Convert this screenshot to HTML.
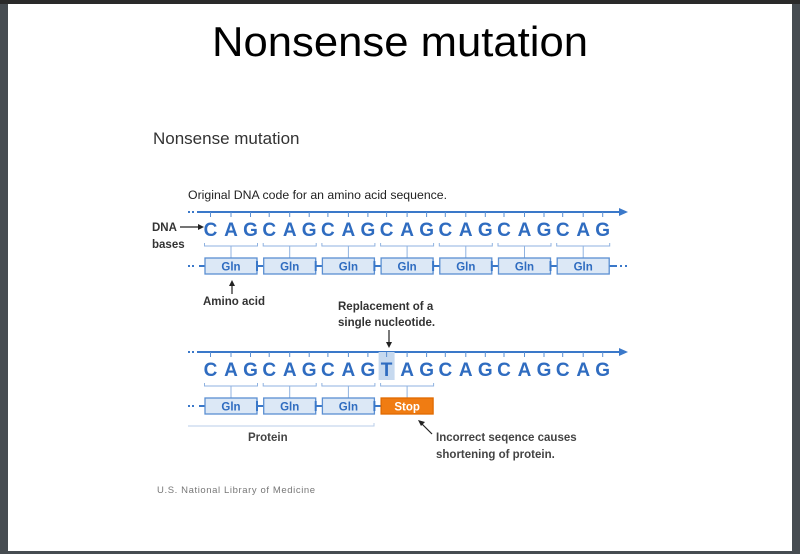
<!DOCTYPE html>
<html><head><meta charset="utf-8"><style>
html,body{margin:0;padding:0;width:800px;height:554px;overflow:hidden;background:#464c51}
svg{display:block}
.dl{font-size:19px;font-weight:bold;fill:#2f6cc0}
</style></head><body>
<svg width="800" height="554" xmlns="http://www.w3.org/2000/svg" font-family="Liberation Sans, Arial, sans-serif">
<rect x="0" y="0" width="800" height="554" fill="#464c51"/>
<rect x="0" y="0" width="800" height="4" fill="#2a2a2a"/>
<rect x="8" y="4" width="784" height="547" fill="#ffffff"/>
<text x="400" y="56" text-anchor="middle" font-size="42" fill="#000" textLength="376" lengthAdjust="spacingAndGlyphs">Nonsense mutation</text>
<text x="153" y="144" font-size="17" fill="#333">Nonsense mutation</text>
<text x="188" y="199" font-size="12.3" fill="#222">Original DNA code for an amino acid sequence.</text>
<text x="152" y="231" font-size="11.5" font-weight="bold" fill="#333">DNA</text>
<text x="152" y="248" font-size="11.5" font-weight="bold" fill="#333">bases</text>
<line x1="180" y1="227" x2="200" y2="227" stroke="#222" stroke-width="1.2"/>
<polygon points="204,227 198,224 198,230" fill="#222"/>
<text x="203" y="305" font-size="11.5" font-weight="bold" fill="#333">Amino acid</text>
<line x1="232" y1="294" x2="232" y2="284" stroke="#222" stroke-width="1.2"/>
<polygon points="232,280 229,286 235,286" fill="#222"/>
<text x="338" y="310" font-size="11.5" font-weight="bold" fill="#333">Replacement of a</text>
<text x="338" y="326" font-size="11.5" font-weight="bold" fill="#333">single nucleotide.</text>
<line x1="389" y1="330" x2="389" y2="344" stroke="#222" stroke-width="1.2"/>
<polygon points="389,348 386,342 392,342" fill="#222"/>
<text x="248" y="441" font-size="11.5" font-weight="bold" fill="#444">Protein</text>
<text x="436" y="441" font-size="11.5" font-weight="bold" fill="#444">Incorrect seqence causes</text>
<text x="436" y="458" font-size="11.5" font-weight="bold" fill="#444">shortening of protein.</text>
<line x1="432" y1="434" x2="421" y2="423" stroke="#222" stroke-width="1.2"/>
<polygon points="418,420 425,422 421,426" fill="#222"/>
<text x="157" y="493" font-size="9.5" fill="#777" letter-spacing="0.6">U.S. National Library of Medicine</text>

<!-- ROW 1 -->
<line x1="188" y1="212" x2="194" y2="212" stroke="#3a78c9" stroke-width="2" stroke-dasharray="2,2"/>
<line x1="197" y1="212" x2="622" y2="212" stroke="#3a78c9" stroke-width="2"/>
<polygon points="628,212 619,208 619,216" fill="#3a78c9"/>
<line x1="188" y1="266" x2="196" y2="266" stroke="#3a78c9" stroke-width="2" stroke-dasharray="2,2"/>
<line x1="199" y1="266" x2="205" y2="266" stroke="#3a78c9" stroke-width="2"/>
<line x1="609" y1="266" x2="617" y2="266" stroke="#3a78c9" stroke-width="2"/>
<line x1="620" y1="266" x2="630" y2="266" stroke="#3a78c9" stroke-width="2" stroke-dasharray="2,3"/>

<g transform="translate(210.5,0)">
<path d="M0,212v5M20.5,212v5M40,212v5" stroke="#5b8fd2"/>
<text y="236" class="dl" text-anchor="middle"><tspan x="0">C</tspan><tspan x="20.5">A</tspan><tspan x="40">G</tspan></text>
<path d="M-6,243v3H47v-3M20.5,246V258" stroke="#8fb2e0" fill="none"/>
<rect x="-5.5" y="258" width="52" height="16" fill="#dce8f6" stroke="#5b8fd2" stroke-width="1.3"/>
<text x="20.5" y="270.5" font-size="11.5" font-weight="bold" fill="#2f6cc0" text-anchor="middle">Gln</text>
</g>
<g transform="translate(269.2,0)">
<path d="M0,212v5M20.5,212v5M40,212v5" stroke="#5b8fd2"/>
<text y="236" class="dl" text-anchor="middle"><tspan x="0">C</tspan><tspan x="20.5">A</tspan><tspan x="40">G</tspan></text>
<path d="M-6,243v3H47v-3M20.5,246V258" stroke="#8fb2e0" fill="none"/>
<path d="M-12.2,266H-5.5M-12.2,261v10" stroke="#3a78c9" stroke-width="2"/>
<rect x="-5.5" y="258" width="52" height="16" fill="#dce8f6" stroke="#5b8fd2" stroke-width="1.3"/>
<text x="20.5" y="270.5" font-size="11.5" font-weight="bold" fill="#2f6cc0" text-anchor="middle">Gln</text>
</g>
<g transform="translate(327.9,0)">
<path d="M0,212v5M20.5,212v5M40,212v5" stroke="#5b8fd2"/>
<text y="236" class="dl" text-anchor="middle"><tspan x="0">C</tspan><tspan x="20.5">A</tspan><tspan x="40">G</tspan></text>
<path d="M-6,243v3H47v-3M20.5,246V258" stroke="#8fb2e0" fill="none"/>
<path d="M-12.2,266H-5.5M-12.2,261v10" stroke="#3a78c9" stroke-width="2"/>
<rect x="-5.5" y="258" width="52" height="16" fill="#dce8f6" stroke="#5b8fd2" stroke-width="1.3"/>
<text x="20.5" y="270.5" font-size="11.5" font-weight="bold" fill="#2f6cc0" text-anchor="middle">Gln</text>
</g>
<g transform="translate(386.6,0)">
<path d="M0,212v5M20.5,212v5M40,212v5" stroke="#5b8fd2"/>
<text y="236" class="dl" text-anchor="middle"><tspan x="0">C</tspan><tspan x="20.5">A</tspan><tspan x="40">G</tspan></text>
<path d="M-6,243v3H47v-3M20.5,246V258" stroke="#8fb2e0" fill="none"/>
<path d="M-12.2,266H-5.5M-12.2,261v10" stroke="#3a78c9" stroke-width="2"/>
<rect x="-5.5" y="258" width="52" height="16" fill="#dce8f6" stroke="#5b8fd2" stroke-width="1.3"/>
<text x="20.5" y="270.5" font-size="11.5" font-weight="bold" fill="#2f6cc0" text-anchor="middle">Gln</text>
</g>
<g transform="translate(445.3,0)">
<path d="M0,212v5M20.5,212v5M40,212v5" stroke="#5b8fd2"/>
<text y="236" class="dl" text-anchor="middle"><tspan x="0">C</tspan><tspan x="20.5">A</tspan><tspan x="40">G</tspan></text>
<path d="M-6,243v3H47v-3M20.5,246V258" stroke="#8fb2e0" fill="none"/>
<path d="M-12.2,266H-5.5M-12.2,261v10" stroke="#3a78c9" stroke-width="2"/>
<rect x="-5.5" y="258" width="52" height="16" fill="#dce8f6" stroke="#5b8fd2" stroke-width="1.3"/>
<text x="20.5" y="270.5" font-size="11.5" font-weight="bold" fill="#2f6cc0" text-anchor="middle">Gln</text>
</g>
<g transform="translate(504,0)">
<path d="M0,212v5M20.5,212v5M40,212v5" stroke="#5b8fd2"/>
<text y="236" class="dl" text-anchor="middle"><tspan x="0">C</tspan><tspan x="20.5">A</tspan><tspan x="40">G</tspan></text>
<path d="M-6,243v3H47v-3M20.5,246V258" stroke="#8fb2e0" fill="none"/>
<path d="M-12.2,266H-5.5M-12.2,261v10" stroke="#3a78c9" stroke-width="2"/>
<rect x="-5.5" y="258" width="52" height="16" fill="#dce8f6" stroke="#5b8fd2" stroke-width="1.3"/>
<text x="20.5" y="270.5" font-size="11.5" font-weight="bold" fill="#2f6cc0" text-anchor="middle">Gln</text>
</g>
<g transform="translate(562.7,0)">
<path d="M0,212v5M20.5,212v5M40,212v5" stroke="#5b8fd2"/>
<text y="236" class="dl" text-anchor="middle"><tspan x="0">C</tspan><tspan x="20.5">A</tspan><tspan x="40">G</tspan></text>
<path d="M-6,243v3H47v-3M20.5,246V258" stroke="#8fb2e0" fill="none"/>
<path d="M-12.2,266H-5.5M-12.2,261v10" stroke="#3a78c9" stroke-width="2"/>
<rect x="-5.5" y="258" width="52" height="16" fill="#dce8f6" stroke="#5b8fd2" stroke-width="1.3"/>
<text x="20.5" y="270.5" font-size="11.5" font-weight="bold" fill="#2f6cc0" text-anchor="middle">Gln</text>
</g>

<!-- ROW 2 -->
<line x1="188" y1="352" x2="194" y2="352" stroke="#3a78c9" stroke-width="2" stroke-dasharray="2,2"/>
<line x1="197" y1="352" x2="622" y2="352" stroke="#3a78c9" stroke-width="2"/>
<polygon points="628,352 619,348 619,356" fill="#3a78c9"/>
<line x1="188" y1="406" x2="196" y2="406" stroke="#3a78c9" stroke-width="2" stroke-dasharray="2,2"/>
<line x1="199" y1="406" x2="205" y2="406" stroke="#3a78c9" stroke-width="2"/>
<path d="M188,426H374v-3" stroke="#b8cde8" fill="none"/>

<g transform="translate(210.5,0)">
<path d="M0,352v5M20.5,352v5M40,352v5" stroke="#5b8fd2"/>
<text y="376" class="dl" text-anchor="middle"><tspan x="0">C</tspan><tspan x="20.5">A</tspan><tspan x="40">G</tspan></text>
<path d="M-6,383v3H47v-3M20.5,386V398" stroke="#8fb2e0" fill="none"/>
<rect x="-5.5" y="398" width="52" height="16" fill="#dce8f6" stroke="#5b8fd2" stroke-width="1.3"/>
<text x="20.5" y="410.5" font-size="11.5" font-weight="bold" fill="#2f6cc0" text-anchor="middle">Gln</text>
</g>
<g transform="translate(269.2,0)">
<path d="M0,352v5M20.5,352v5M40,352v5" stroke="#5b8fd2"/>
<text y="376" class="dl" text-anchor="middle"><tspan x="0">C</tspan><tspan x="20.5">A</tspan><tspan x="40">G</tspan></text>
<path d="M-6,383v3H47v-3M20.5,386V398" stroke="#8fb2e0" fill="none"/>
<path d="M-12.2,406H-5.5M-12.2,401v10" stroke="#3a78c9" stroke-width="2"/>
<rect x="-5.5" y="398" width="52" height="16" fill="#dce8f6" stroke="#5b8fd2" stroke-width="1.3"/>
<text x="20.5" y="410.5" font-size="11.5" font-weight="bold" fill="#2f6cc0" text-anchor="middle">Gln</text>
</g>
<g transform="translate(327.9,0)">
<path d="M0,352v5M20.5,352v5M40,352v5" stroke="#5b8fd2"/>
<text y="376" class="dl" text-anchor="middle"><tspan x="0">C</tspan><tspan x="20.5">A</tspan><tspan x="40">G</tspan></text>
<path d="M-6,383v3H47v-3M20.5,386V398" stroke="#8fb2e0" fill="none"/>
<path d="M-12.2,406H-5.5M-12.2,401v10" stroke="#3a78c9" stroke-width="2"/>
<rect x="-5.5" y="398" width="52" height="16" fill="#dce8f6" stroke="#5b8fd2" stroke-width="1.3"/>
<text x="20.5" y="410.5" font-size="11.5" font-weight="bold" fill="#2f6cc0" text-anchor="middle">Gln</text>
</g>
<g transform="translate(386.6,0)">
<rect x="-8" y="352" width="16" height="28" fill="#c6d9ef"/>
<path d="M0,352v5M20.5,352v5M40,352v5" stroke="#5b8fd2"/>
<text y="376" class="dl" text-anchor="middle"><tspan x="0">T</tspan><tspan x="20.5">A</tspan><tspan x="40">G</tspan></text>
<path d="M-6,383v3H47v-3M20.5,386V398" stroke="#8fb2e0" fill="none"/>
<path d="M-12.2,406H-5.5M-12.2,401v10" stroke="#3a78c9" stroke-width="2"/>
<rect x="-5.5" y="398" width="52" height="16" fill="#f07c12" stroke="#e06a00" stroke-width="1.3"/>
<text x="20.5" y="410.5" font-size="11.5" font-weight="bold" fill="#ffffff" text-anchor="middle">Stop</text>
</g>
<g transform="translate(445.3,0)">
<path d="M0,352v5M20.5,352v5M40,352v5" stroke="#5b8fd2"/>
<text y="376" class="dl" text-anchor="middle"><tspan x="0">C</tspan><tspan x="20.5">A</tspan><tspan x="40">G</tspan></text>
</g>
<g transform="translate(504,0)">
<path d="M0,352v5M20.5,352v5M40,352v5" stroke="#5b8fd2"/>
<text y="376" class="dl" text-anchor="middle"><tspan x="0">C</tspan><tspan x="20.5">A</tspan><tspan x="40">G</tspan></text>
</g>
<g transform="translate(562.7,0)">
<path d="M0,352v5M20.5,352v5M40,352v5" stroke="#5b8fd2"/>
<text y="376" class="dl" text-anchor="middle"><tspan x="0">C</tspan><tspan x="20.5">A</tspan><tspan x="40">G</tspan></text>
</g>
</svg>
</body></html>
